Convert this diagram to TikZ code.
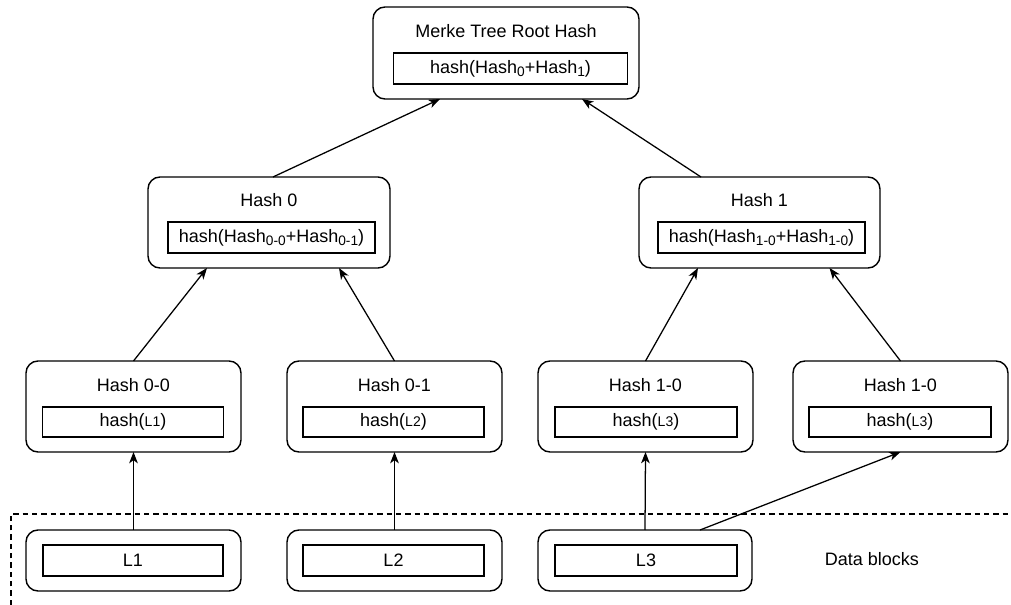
\documentclass[tikz,border=0pt]{standalone}
\usepackage{fontspec}
\setmainfont{Liberation Sans}
\usetikzlibrary{arrows.meta,calc}
\newcommand\sbs[1]{\raisebox{-2.6pt}{\fontsize{10.3pt}{10pt}\selectfont #1}}
\newcommand\smtx[1]{{\fontsize{10.5pt}{10pt}\selectfont #1}}
\begin{document}
\begin{tikzpicture}[x=0.75pt,y=-0.75pt,
  every node/.style={font=\fontsize{13.5pt}{15pt}\selectfont, inner sep=0pt, outer sep=0pt},
  sz/.style 2 args={minimum width=#1*0.75pt, minimum height=#2*0.75pt},
  outerbox/.style={draw, rounded corners=9pt, line width=1.05pt},
  innerbox/.style={draw, line width=1.05pt},
  arr/.style={-{Stealth[length=8.5pt,width=6.5pt,inset=2.4pt]}, line width=0.95pt},
  region/.style={dashed, dash pattern=on 4pt off 3pt, line width=0.9pt}]
\useasboundingbox (0,0) rectangle (1011,605);
% root
\node[outerbox, sz={266}{92}] (root) at (506,53) {};
\node (rootT) at (506,31) {Merke Tree Root Hash};
\node[innerbox, sz={234}{31}] (rootI) at (510.5,68.5) {hash(Hash\sbs{0}+Hash\sbs{1})};
% level 1
\node[outerbox, sz={242}{91}] (h0) at (269,222.5) {};
\node (h0T) at (269,200.5) {Hash 0};
\node[innerbox, sz={207}{31}] (h0I) at (271.5,237.5) {hash(Hash\sbs{0-0}+Hash\sbs{0-1})};
\node[outerbox, sz={241}{91}] (h1) at (759.5,222.5) {};
\node (h1T) at (759.5,200.5) {Hash 1};
\node[innerbox, sz={207}{31}] (h1I) at (761.5,237.5) {hash(Hash\sbs{1-0}+Hash\sbs{1-0})};
% level 2
\node[outerbox, sz={215}{91}] (h00) at (133.5,406.5) {};
\node (h00T) at (133.5,385) {Hash 0-0};
\node[innerbox, sz={181}{30}] (h00I) at (133,422) {hash(\smtx{L1})};
\node[outerbox, sz={215}{91}] (h01) at (394.5,406.5) {};
\node (h01T) at (394.5,385) {Hash 0-1};
\node[innerbox, sz={181}{30}] (h01I) at (393.5,422) {hash(\smtx{L2})};
\node[outerbox, sz={215}{91}] (h10) at (645.5,406.5) {};
\node (h10T) at (645.5,385) {Hash 1-0};
\node[innerbox, sz={182}{30}] (h10I) at (646,422) {hash(\smtx{L3})};
\node[outerbox, sz={215}{91}] (h11) at (900.5,406.5) {};
\node (h11T) at (900.5,385) {Hash 1-0};
\node[innerbox, sz={182}{30}] (h11I) at (900,422) {hash(\smtx{L3})};
% data blocks
\draw[region] (11,605) -- (11,514) -- (1011,514);
\node[outerbox, sz={215}{61}] (L1) at (133.5,560.5) {};
\node[innerbox, sz={180}{31}] (L1I) at (133,560.5) {L1};
\node[outerbox, sz={215}{61}] (L2) at (394.5,560.5) {};
\node[innerbox, sz={181}{31}] (L2I) at (393.5,560.5) {L2};
\node[outerbox, sz={214}{61}] (L3) at (645,560.5) {};
\node[innerbox, sz={182}{31}] (L3I) at (646,560.5) {L3};
\node (dbT) at (872,559) {Data blocks};
% connectors
\draw[arr] (L1.north) -- (h00.south);
\draw[arr] (L2.north) -- (h01.south);
\draw[arr] (L3.north) -- (h10.south);
\draw[arr] ($(L3.north)+(55,0)$) -- (h11.south);
\draw[arr] (h00.north) -- ($(h0.south)+(-62,0)$);
\draw[arr] (h01.north) -- ($(h0.south)+(70,0)$);
\draw[arr] (h10.north) -- ($(h1.south)+(-61.5,0)$);
\draw[arr] (h11.north) -- ($(h1.south)+(70,0)$);
\draw[arr] ($(h0.north)+(4,0)$) -- ($(root.south)+(-66,0)$);
\draw[arr] ($(h1.north)+(-58.5,0)$) -- ($(root.south)+(76,0)$);
\end{tikzpicture}
\end{document}
